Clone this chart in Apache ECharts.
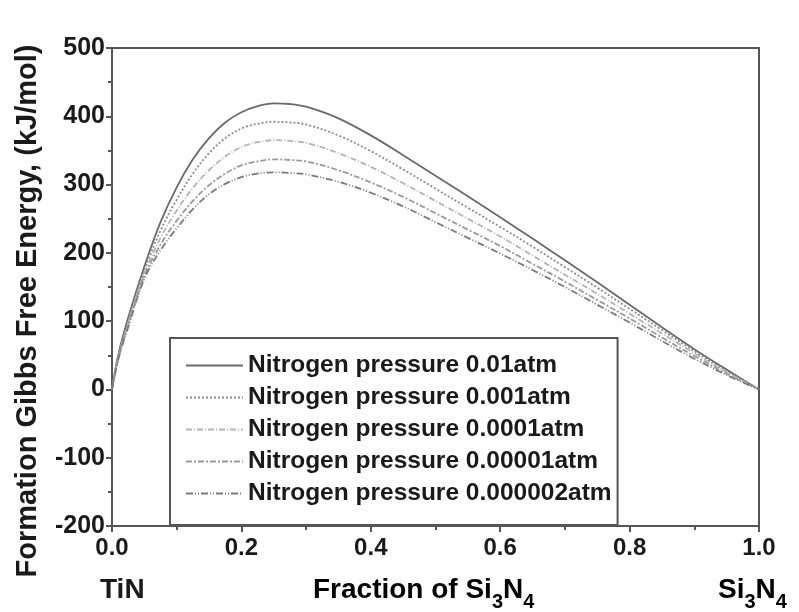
<!DOCTYPE html>
<html>
<head>
<meta charset="utf-8">
<script src="https://cdn.jsdelivr.net/npm/echarts@6/dist/echarts.min.js"></script>
<style>html,body{margin:0;padding:0;background:#fff;}#c{width:799px;height:612px;}</style>
</head>
<body>
<div id="c"></div>
<script>
const fractionSi3N4 = [0, 0.01, 0.025, 0.05, 0.075, 0.1, 0.125, 0.15, 0.175, 0.2, 0.225, 0.25, 0.275, 0.3, 0.35, 0.4, 0.45, 0.5, 0.55, 0.6, 0.65, 0.7, 0.75, 0.8, 0.85, 0.9, 0.95, 1.0];
const p001     = [0, 52, 105, 180, 245, 296, 337, 368, 391, 406, 415, 419, 418, 414, 397, 372, 343, 313, 283, 252, 221, 189, 157, 124, 91, 59, 29, 0];
const p0001    = [0, 50, 100, 174, 233, 278, 316, 346, 368, 382, 389, 392, 391, 388, 372, 349, 322, 294, 266, 238, 209, 179, 149, 118, 87, 56, 27, 0];
const p00001   = [0, 48, 97, 170, 222, 262, 295, 321, 341, 355, 362, 365, 364, 361, 346, 326, 302, 276, 250, 224, 196, 168, 140, 111, 82, 53, 25, 0];
const p000001  = [0, 46, 94, 166, 212, 247, 276, 299, 316, 328, 334, 337, 336, 334, 321, 303, 282, 258, 234, 210, 184, 158, 131, 104, 76, 49, 23, 0];
const p0000002 = [0, 45, 91, 162, 204, 236, 264, 286, 301, 311, 316, 318, 317, 315, 304, 288, 268, 245, 222, 199, 175, 150, 124, 98, 71, 45, 21, 0];
const seriesNames = ['Nitrogen pressure 0.01atm', 'Nitrogen pressure 0.001atm', 'Nitrogen pressure 0.0001atm', 'Nitrogen pressure 0.00001atm', 'Nitrogen pressure 0.000002atm'];
const seriesValues = [p001, p0001, p00001, p000001, p0000002];
const yTicks = {min: -200, max: 500, interval: 100};
const xTicks = {min: 0, max: 1, interval: 0.2};

const styles = [
  {color: '#6a6a6a', type: 'solid', width: 1.8},
  {color: '#8c8c8c', type: [2, 2], width: 1.8},
  {color: '#b4b4b4', type: [6, 2, 1, 2], width: 1.8},
  {color: '#9a9a9a', type: [6, 2, 2, 2], width: 1.8},
  {color: '#7a7a7a', type: [7, 2, 1, 2, 1, 2], width: 1.8}
];
const FONT = '"Liberation Sans", Arial, sans-serif';
const chart = echarts.init(document.getElementById('c'), null, {renderer: 'canvas'});
const series = seriesNames.map((n, i) => ({
  name: n,
  type: 'line',
  smooth: 0.35,
  symbol: 'none',
  data: fractionSi3N4.map((x, j) => [x, seriesValues[i][j]]),
  lineStyle: {color: styles[i].color, type: styles[i].type, width: styles[i].width},
  itemStyle: {color: styles[i].color}
}));
const subRich = {
  b: {fontFamily: FONT, fontWeight: 'bold', fontSize: 28, color: '#1a1a1a', verticalAlign: 'top', lineHeight: 30},
  s: {fontFamily: FONT, fontWeight: 'bold', fontSize: 20, color: '#1a1a1a', verticalAlign: 'top', lineHeight: 20, padding: [16, 0, 0, 0]}
};
chart.setOption({
  animation: false,
  backgroundColor: '#fff',
  grid: {left: 112, right: 40, top: 48, bottom: 86, show: true, borderColor: '#555', borderWidth: 2, backgroundColor: 'transparent'},
  legend: {
    orient: 'vertical', left: 170, top: 338,
    itemWidth: 57, itemHeight: 12, itemGap: 7,
    padding: [15, 6, 19, 15],
    backgroundColor: '#fff', borderColor: '#555', borderWidth: 2, borderRadius: 0,
    itemStyle: {opacity: 0},
    textStyle: {fontFamily: FONT, fontWeight: 'bold', fontSize: 24.5, color: '#1a1a1a', lineHeight: 24},
    data: seriesNames
  },
  xAxis: {
    type: 'value', min: xTicks.min, max: xTicks.max, interval: xTicks.interval,
    axisLine: {show: true, onZero: false, lineStyle: {color: '#555', width: 2}},
    axisTick: {show: true, length: 6, lineStyle: {color: '#555', width: 2}},
    minorTick: {show: true, splitNumber: 2, length: 4, lineStyle: {color: '#555', width: 2}},
    splitLine: {show: false},
    axisLabel: {margin: 10, fontFamily: FONT, fontWeight: 'bold', fontSize: 24, color: '#1a1a1a', formatter: v => v.toFixed(1)}
  },
  yAxis: {
    type: 'value', min: yTicks.min, max: yTicks.max, interval: yTicks.interval,
    axisLine: {show: true, onZero: false, lineStyle: {color: '#555', width: 2}},
    axisTick: {show: true, length: 6, lineStyle: {color: '#555', width: 2}},
    minorTick: {show: true, splitNumber: 2, length: 4, lineStyle: {color: '#555', width: 2}},
    splitLine: {show: false},
    axisLabel: {margin: 7, fontFamily: FONT, fontWeight: 'bold', fontSize: 25, color: '#1a1a1a'}
  },
  graphic: [
    {type: 'text', x: 28, y: 311, rotation: Math.PI / 2,
     style: {text: 'Formation Gibbs Free Energy, (kJ/mol)', font: 'bold 29px ' + FONT, fill: '#1a1a1a', textAlign: 'center', textVerticalAlign: 'middle'}},
    {type: 'text', left: 100, top: 576,
     style: {text: 'TiN', font: 'bold 28px ' + FONT, fill: '#1a1a1a'}},
    {type: 'text', left: 313, top: 576,
     style: {text: '{b|Fraction of Si}{s|3}{b|N}{s|4}', rich: subRich}},
    {type: 'text', left: 718, top: 576,
     style: {text: '{b|Si}{s|3}{b|N}{s|4}', rich: subRich}}
  ],
  series: series
});
</script>
</body>
</html>
